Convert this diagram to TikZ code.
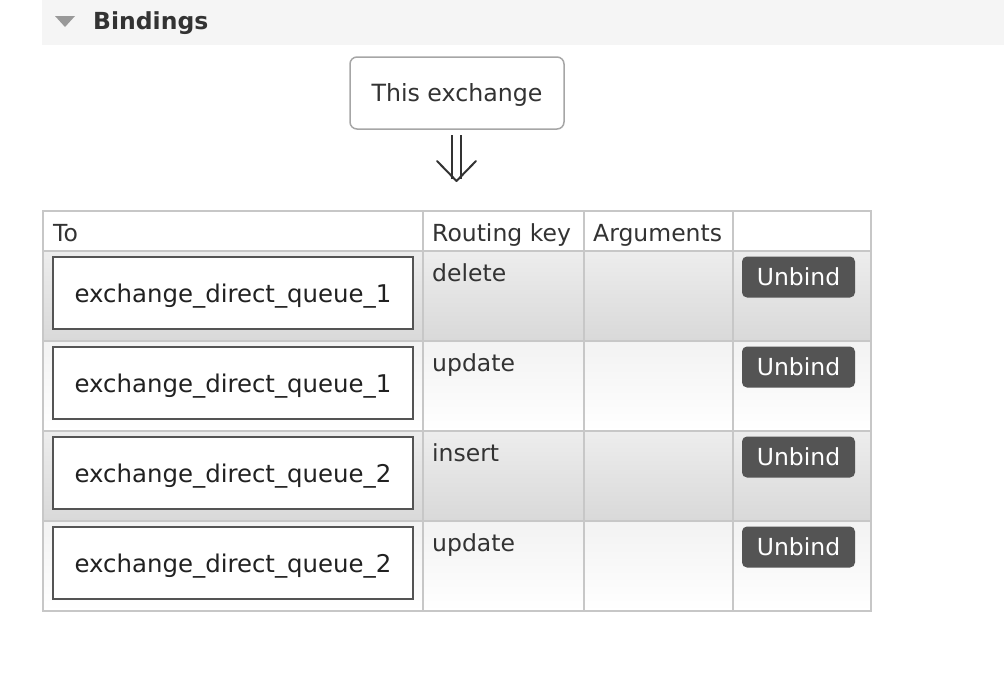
\documentclass[tikz,border=0pt]{standalone}
\usepackage{fontspec}
\setmainfont{DejaVu Sans}
\begin{document}
\begin{tikzpicture}[x=1pt,y=-1pt,
  txt/.style={inner sep=0pt,font=\fontsize{23.5}{28}\selectfont,text=black!80},
  grid/.style={draw=black!22,line width=2pt},
  queuebox/.style={draw=black!67,line width=1.6pt,fill=white,minimum width=360pt,minimum height=72pt,inner sep=0pt,text height=20pt,text depth=1.4pt,font=\fontsize{24.4}{28}\selectfont,text=black!87},
  unbindbtn/.style={fill=black!67,rounded corners=5pt,minimum width=113pt,minimum height=41pt,inner sep=0pt,text=white,font=\fontsize{23.5}{28}\selectfont},
  exbox/.style={draw=black!35,line width=1.5pt,rounded corners=7pt,fill=white,minimum width=214pt,minimum height=72pt,inner sep=0pt,text height=19.5pt,text depth=3.1pt,font=\fontsize{23.7}{28}\selectfont,text=black!80}
]
\useasboundingbox (0,0) rectangle (1004,680);
\fill[white] (0,0) rectangle (1004,680);
% header bar
\fill[black!4] (42,0) rectangle (1004,45);
\fill[black!40] (55,16) -- (75,16) -- (65,27) -- cycle;
\node[txt,anchor=base west,font=\fontsize{23.5}{28}\selectfont\bfseries] (title) at (93,29) {Bindings};
% exchange box
\node[exbox] (ex) at (457,93) {This exchange};
% double arrow
\coordinate (arrtip) at (456.5,181);
\draw[black!80,line width=2pt] (452,135) -- (452,179);
\draw[black!80,line width=2pt] (461,135) -- (461,179);
\draw[black!80,line width=2pt,line join=round,line cap=round] (437,161) -- (arrtip) -- (476,161);
% rows backgrounds
\fill[white] (43,211) rectangle (871,251);
\shade[top color=black!7,bottom color=black!15] (43,251) rectangle (871,341);
\shade[top color=black!5,bottom color=white] (43,341) rectangle (871,431);
\shade[top color=black!7,bottom color=black!15] (43,431) rectangle (871,521);
\shade[top color=black!5,bottom color=white] (43,521) rectangle (871,611);
% grid
\draw[grid] (43,211) rectangle (871,611);
\foreach \yy in {251,341,431,521} \draw[grid] (43,\yy) -- (871,\yy);
\foreach \xx in {423,584,733} \draw[grid] (\xx,211) -- (\xx,611);
% header texts
\node[txt,anchor=base west] (hto) at (53,241) {To};
\node[txt,anchor=base west] (hrk) at (432,241) {Routing key};
\node[txt,anchor=base west] (harg) at (593,241) {Arguments};
% rows
\node[queuebox] (q1) at (233,293) {exchange\_direct\_queue\_1};
\node[queuebox] (q2) at (233,383) {exchange\_direct\_queue\_1};
\node[queuebox] (q3) at (233,473) {exchange\_direct\_queue\_2};
\node[queuebox] (q4) at (233,563) {exchange\_direct\_queue\_2};
\node[txt,anchor=base west] (k1) at (432,281) {delete};
\node[txt,anchor=base west] (k2) at (432,371) {update};
\node[txt,anchor=base west] (k3) at (432,461) {insert};
\node[txt,anchor=base west] (k4) at (432,551) {update};
\node[unbindbtn] (u1) at (798.5,277) {Unbind};
\node[unbindbtn] (u2) at (798.5,367) {Unbind};
\node[unbindbtn] (u3) at (798.5,457) {Unbind};
\node[unbindbtn] (u4) at (798.5,547) {Unbind};
\end{tikzpicture}
\end{document}
